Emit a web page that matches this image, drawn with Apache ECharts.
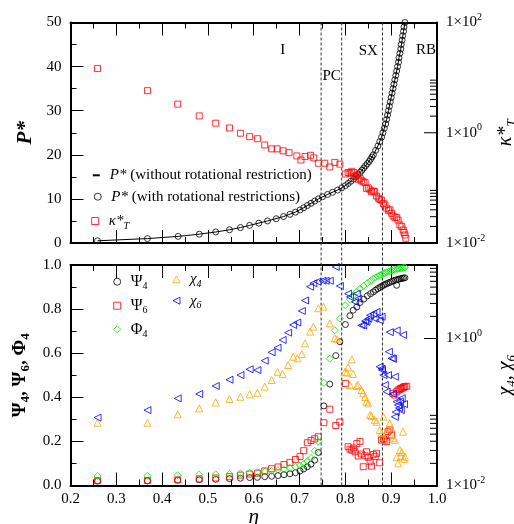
<!DOCTYPE html>
<html>
<head>
<meta charset="utf-8">
<title>Equation of state and order parameters</title>
<script src="https://cdn.jsdelivr.net/npm/echarts@6.0.0/dist/echarts.min.js"></script>
<style>
  html, body { margin: 0; padding: 0; background: #ffffff; }
  #chart { width: 514px; height: 524px; }
</style>
</head>
<body>
<div id="chart"></div>
<script>
// ---------------- data ----------------
// packing fraction range shared by both panels
const ETA_MIN = 0.2, ETA_MAX = 1.0, ETA_STEP = 0.1;

// reduced pressure, system without rotational restriction (solid curve)
const pWithoutRestriction = [
  [0.259,0.5],[0.368,1.0],[0.435,1.5],[0.481,2.0],[0.517,2.5],[0.547,3.0],[0.571,3.5],[0.591,4.0],
  [0.630,5.0],[0.665,6.0],[0.691,7.0],[0.709,8.0],[0.725,9.0],[0.741,10.0],[0.761,11.0],[0.783,12.0],
  [0.800,13.0],[0.812,14.0],[0.823,15.0],[0.832,16.0],[0.840,17.0],[0.848,18.0],[0.855,19.0],[0.861,20.0],
  [0.871,22.0],[0.879,24.0],[0.885,26.0],[0.890,28.0],[0.894,30.0],[0.898,32.0],[0.902,34.0],[0.906,36.0],
  [0.910,38.0],[0.914,40.0],[0.917,42.0],[0.921,44.0],[0.924,46.0],[0.927,48.0],[0.930,50.0]
];

// reduced pressure, system with rotational restrictions (open circles)
const pWithRestrictions = [
  [0.259,0.5],[0.368,1.0],[0.435,1.5],[0.481,2.0],[0.517,2.5],[0.547,3.0],[0.571,3.5],[0.591,4.0],
  [0.611,4.5],[0.630,5.0],[0.649,5.5],[0.665,6.0],[0.679,6.5],[0.691,7.0],[0.701,7.5],[0.709,8.0],
  [0.717,8.5],[0.725,9.0],[0.733,9.5],[0.741,10.0],[0.750,10.5],[0.761,11.0],[0.772,11.5],[0.783,12.0],
  [0.792,12.5],[0.800,13.0],[0.806,13.5],[0.812,14.0],[0.818,14.5],[0.823,15.0],[0.827,15.5],[0.832,16.0],
  [0.836,16.5],[0.840,17.0],[0.844,17.5],[0.848,18.0],[0.852,18.5],[0.855,19.0],[0.858,19.5],[0.861,20.0],
  [0.866,21],[0.871,22],[0.875,23],[0.879,24],[0.882,25],[0.885,26],[0.888,27],[0.890,28],[0.892,29],
  [0.894,30],[0.896,31],[0.898,32],[0.900,33],[0.902,34],[0.904,35],[0.906,36],[0.908,37],[0.910,38],
  [0.912,39],[0.914,40],[0.916,41],[0.917,42],[0.919,43],[0.921,44],[0.922,45],[0.924,46],[0.925,47],
  [0.927,48],[0.928,49],[0.930,50]
];

// isothermal compressibility (right log axis, upper panel)
const kappaT = [
  [0.259,14.6],[0.368,5.8],[0.434,3.3],[0.481,2.02],[0.517,1.49],[0.547,1.22],[0.571,0.98],[0.591,0.85],
  [0.608,0.78],[0.624,0.60],[0.639,0.51],[0.651,0.51],[0.664,0.47],[0.677,0.435],[0.694,0.38],[0.703,0.32],
  [0.712,0.37],[0.724,0.39],[0.731,0.35],[0.741,0.28],[0.755,0.28],[0.766,0.24],[0.777,0.29],[0.788,0.27],
  [0.800,0.179],[0.806,0.19],[0.810,0.184],[0.814,0.20],[0.818,0.19],[0.821,0.16],[0.825,0.17],[0.828,0.143],
  [0.832,0.149],[0.835,0.135],[0.839,0.129],[0.843,0.125],[0.846,0.098],[0.850,0.10],[0.854,0.092],[0.857,0.085],
  [0.861,0.087],[0.864,0.085],[0.868,0.071],[0.872,0.065],[0.875,0.062],[0.879,0.060],[0.883,0.052],[0.886,0.049],
  [0.890,0.043],[0.894,0.0385],[0.897,0.040],[0.901,0.0346],[0.904,0.031],[0.908,0.0292],[0.912,0.0292],
  [0.915,0.0261],[0.919,0.0212],[0.923,0.0198],[0.926,0.0172],[0.928,0.0155],[0.930,0.014],[0.932,0.0122]
];

// tetratic order parameter
const psi4 = [
  [0.259,0.020],[0.368,0.021],[0.434,0.024],[0.481,0.026],[0.517,0.028],[0.547,0.031],[0.571,0.033],
  [0.591,0.036],[0.608,0.037],[0.624,0.040],[0.639,0.042],[0.653,0.045],[0.666,0.049],[0.679,0.053],
  [0.691,0.058],[0.701,0.066],[0.709,0.075],[0.717,0.085],[0.725,0.097],[0.733,0.115],[0.741,0.150],
  [0.753,0.361],[0.766,0.460],[0.779,0.589],[0.788,0.652],[0.800,0.730],[0.810,0.770],[0.817,0.795],
  [0.825,0.810],[0.832,0.830],[0.840,0.845],[0.848,0.860],[0.855,0.870],[0.861,0.878],[0.866,0.886],
  [0.871,0.893],[0.875,0.898],[0.879,0.903],[0.883,0.908],[0.886,0.912],[0.890,0.915],[0.894,0.919],
  [0.898,0.922],[0.902,0.926],[0.906,0.929],[0.910,0.932],[0.912,0.908],[0.914,0.934],[0.917,0.936],
  [0.921,0.938],[0.924,0.940],[0.927,0.941],[0.930,0.942]
];

// hexatic order parameter
const psi6 = [
  [0.259,0.022],[0.368,0.023],[0.434,0.026],[0.481,0.030],[0.517,0.034],[0.547,0.040],[0.571,0.047],
  [0.591,0.052],[0.608,0.056],[0.624,0.066],[0.639,0.076],[0.653,0.084],[0.666,0.095],[0.679,0.105],
  [0.691,0.118],[0.701,0.132],[0.709,0.158],[0.717,0.194],[0.725,0.204],[0.733,0.212],[0.741,0.221],
  [0.753,0.285],[0.766,0.346],[0.779,0.272],[0.788,0.288],[0.800,0.463],[0.806,0.176],[0.810,0.165],
  [0.814,0.160],[0.818,0.170],[0.821,0.153],[0.825,0.190],[0.828,0.134],[0.832,0.200],[0.835,0.143],
  [0.839,0.085],[0.843,0.135],[0.846,0.153],[0.850,0.128],[0.854,0.108],[0.857,0.088],[0.861,0.140],
  [0.865,0.131],[0.868,0.146],[0.875,0.103],[0.879,0.206],[0.883,0.212],[0.886,0.206],[0.890,0.199],
  [0.893,0.244],[0.897,0.252],[0.901,0.229],[0.904,0.418],[0.908,0.410],[0.912,0.425],[0.915,0.433],
  [0.919,0.436],[0.921,0.440],[0.923,0.441],[0.926,0.445],[0.928,0.447],[0.930,0.448],[0.934,0.450]
];

// orientational order parameter
const phi4 = [
  [0.259,0.043],[0.368,0.044],[0.434,0.047],[0.481,0.050],[0.517,0.051],[0.547,0.053],[0.571,0.055],
  [0.591,0.058],[0.608,0.060],[0.624,0.063],[0.639,0.066],[0.653,0.070],[0.666,0.074],[0.679,0.079],
  [0.691,0.085],[0.701,0.090],[0.709,0.098],[0.717,0.110],[0.725,0.125],[0.733,0.158],[0.741,0.199],
  [0.753,0.466],[0.766,0.575],[0.777,0.704],[0.788,0.757],[0.800,0.817],[0.810,0.844],[0.817,0.862],
  [0.825,0.878],[0.832,0.893],[0.840,0.905],[0.848,0.918],[0.855,0.928],[0.861,0.938],[0.866,0.944],
  [0.871,0.949],[0.875,0.953],[0.879,0.957],[0.883,0.961],[0.886,0.964],[0.890,0.967],[0.894,0.970],
  [0.898,0.973],[0.902,0.975],[0.906,0.978],[0.910,0.980],[0.914,0.982],[0.917,0.984],[0.921,0.985],
  [0.924,0.986],[0.927,0.988],[0.930,0.989]
];

// susceptibilities (right log axis, lower panel)
const chi4 = [
  [0.259,0.0715],[0.368,0.0715],[0.434,0.093],[0.481,0.112],[0.517,0.135],[0.547,0.150],[0.571,0.161],
  [0.591,0.174],[0.608,0.183],[0.624,0.221],[0.639,0.272],[0.652,0.353],[0.663,0.329],[0.675,0.436],
  [0.686,0.565],[0.695,0.538],[0.705,0.615],[0.712,0.86],[0.723,1.24],[0.730,1.45],[0.741,2.58],
  [0.752,2.71],[0.766,1.61],[0.777,1.01],[0.782,0.975],[0.799,0.353],[0.803,0.343],[0.806,0.405],
  [0.810,0.233],[0.814,0.52],[0.817,0.329],[0.825,0.226],[0.828,0.233],[0.835,0.199],[0.839,0.180],
  [0.843,0.160],[0.846,0.138],[0.850,0.131],[0.854,0.091],[0.857,0.088],[0.864,0.078],[0.868,0.0738],
  [0.875,0.0569],[0.879,0.0518],[0.883,0.0863],[0.886,0.0416],[0.890,0.0534],[0.897,0.070],[0.901,0.060],
  [0.904,0.0439],[0.908,0.0416],[0.912,0.0242],[0.915,0.020],[0.919,0.0304],[0.921,0.0252],[0.923,0.0285],
  [0.926,0.054],[0.928,0.023],[0.930,0.0247]
];

const chi6 = [
  [0.259,0.084],[0.368,0.106],[0.434,0.153],[0.481,0.176],[0.517,0.226],[0.547,0.275],[0.571,0.318],
  [0.591,0.381],[0.608,0.372],[0.624,0.499],[0.639,0.649],[0.652,0.75],[0.663,0.955],[0.675,1.20],
  [0.686,1.53],[0.695,1.65],[0.705,2.37],[0.712,3.29],[0.723,5.07],[0.730,5.64],[0.739,5.93],[0.750,6.11],
  [0.757,6.11],[0.766,6.11],[0.779,9.4],[0.788,5.18],[0.806,4.07],[0.810,3.67],[0.821,3.14],[0.825,4.07],
  [0.828,3.48],[0.835,1.51],[0.839,1.51],[0.843,1.73],[0.846,1.68],[0.850,1.86],[0.854,2.07],[0.861,2.17],
  [0.864,1.86],[0.868,2.30],[0.875,1.77],[0.879,1.98],[0.875,0.413],[0.879,0.388],[0.880,0.372],
  [0.883,0.318],[0.886,0.233],[0.890,0.189],[0.893,0.318],[0.895,0.66],[0.897,1.22],[0.901,0.538],
  [0.904,0.53],[0.908,0.302],[0.912,1.29],[0.926,1.12],[0.904,0.176],[0.908,0.086],[0.910,0.10],
  [0.912,0.138],[0.915,0.124],[0.917,0.113],[0.919,0.14],[0.921,0.106],[0.923,0.154],[0.928,0.128]
];

// packing fractions separating the phases
const phaseBoundaries = [0.747, 0.792, 0.881];
const phaseNames = ['I', 'PC', 'SX', 'RB'];

// tick values of the logarithmic axes
const logMajorTicks = [1];
const logMinorTicks = [0.02, 0.03, 0.04, 0.05, 0.06, 0.07, 0.08, 0.09, 2, 3, 4, 5, 6, 7, 8, 9];

// ---------------- chart ----------------
const FONT = "'Liberation Serif', 'Times New Roman', Times, serif";
const BLACK = '#000000';

// left-pointing open triangle used for the chi_6 markers
const LEFT_TRIANGLE = 'path://M10,0L10,10L0,5Z';

const NAME_P_LINE = 'P* (without rotational restriction)';
const NAME_P_CIRC = 'P* (with rotational restrictions)';
const NAME_KAPPA = 'κ*T';
const NAME_PSI4 = 'Ψ4', NAME_PSI6 = 'Ψ6', NAME_PHI4 = 'Φ4', NAME_CHI4 = 'χ4', NAME_CHI6 = 'χ6';

const legendText = {
  [NAME_P_LINE]: '{it|P*} (without rotational restriction)',
  [NAME_P_CIRC]: '{it|P*} (with rotational restrictions)',
  [NAME_KAPPA]: '{it|κ*}{subIt|T}',
  [NAME_PSI4]: '{gr|Ψ}{sub|4}',
  [NAME_PSI6]: '{gr|Ψ}{sub|6}',
  [NAME_PHI4]: '{gr|Φ}{sub|4}',
  [NAME_CHI4]: '{it|χ}{subIt|4}',
  [NAME_CHI6]: '{it|χ}{subIt|6}'
};

const legendRich = {
  it: { fontFamily: FONT, fontSize: 15, fontStyle: 'italic', lineHeight: 20, color: BLACK },
  gr: { fontFamily: FONT, fontSize: 16, lineHeight: 20, color: BLACK },
  sub: { fontFamily: FONT, fontSize: 10, lineHeight: 10, verticalAlign: 'bottom', color: BLACK },
  subIt: { fontFamily: FONT, fontSize: 10, fontStyle: 'italic', lineHeight: 10, verticalAlign: 'bottom', color: BLACK }
};

// one legend component per row so every entry sits exactly where it belongs
function legendEntry(name, cx, cy, opts) {
  const o = opts || {};
  const w = o.itemWidth || 7, h = o.itemHeight || 7;
  const item = { name };
  if (o.icon) item.icon = o.icon;
  return {
    show: true, orient: 'vertical', left: cx - w / 2, top: cy - 10, padding: 0,
    itemWidth: w, itemHeight: h, selectedMode: false, data: [item],
    itemStyle: o.itemStyle || { color: 'transparent', borderWidth: 1 },
    formatter: n => legendText[n],
    textStyle: { fontFamily: FONT, fontSize: 15, color: BLACK, lineHeight: 20, padding: [0, 0, 0, 5], rich: legendRich }
  };
}

const axisLineStyle = { show: true, onZero: false, lineStyle: { color: BLACK, width: 2 } };

function etaAxis(gridIndex, position, showLabels) {
  return {
    type: 'value', gridIndex, position, min: ETA_MIN, max: ETA_MAX, interval: ETA_STEP,
    axisLine: axisLineStyle,
    axisTick: { show: true, inside: true, length: 13, lineStyle: { color: BLACK, width: 1 } },
    minorTick: { show: true, splitNumber: 2, length: 6, lineStyle: { color: BLACK, width: 1 } },
    splitLine: { show: false },
    axisLabel: {
      show: showLabels, fontFamily: FONT, fontSize: 15, color: BLACK, margin: 6,
      formatter: v => v.toFixed(1)
    },
    name: showLabels ? 'η' : '', nameLocation: 'middle', nameGap: 18,
    nameTextStyle: { fontFamily: FONT, fontSize: 21, fontStyle: 'italic', color: BLACK }
  };
}

function linearAxis(gridIndex, max, interval, digits, name, rich, gap) {
  return {
    type: 'value', gridIndex, position: 'left', min: 0, max, interval,
    axisLine: axisLineStyle,
    axisTick: { show: true, inside: true, length: 13, lineStyle: { color: BLACK, width: 1 } },
    minorTick: { show: true, splitNumber: 2, length: 6, lineStyle: { color: BLACK, width: 1 } },
    splitLine: { show: false },
    axisLabel: { fontFamily: FONT, fontSize: 15, color: BLACK, margin: 9, formatter: v => v.toFixed(digits) },
    name, nameLocation: 'middle', nameRotate: 90, nameGap: gap,
    nameTextStyle: { rich }
  };
}

function powerLabel(v) {
  const e = Math.round(Math.log10(v));
  return e % 2 === 0 ? '{b|1×10}{sup|' + e + '}' : '';
}

function logAxis(gridIndex, min, max, name, gap) {
  return {
    type: 'log', logBase: 10, gridIndex, position: 'right', min, max,
    axisLine: axisLineStyle,
    axisTick: { show: false }, minorTick: { show: false }, splitLine: { show: false },
    axisLabel: {
      margin: 9, formatter: powerLabel,
      rich: {
        b: { fontFamily: FONT, fontSize: 15, lineHeight: 20, color: BLACK },
        sup: { fontFamily: FONT, fontSize: 10, lineHeight: 10, verticalAlign: 'top', color: BLACK }
      }
    },
    name, nameLocation: 'middle', nameRotate: 90, nameGap: gap,
    nameTextStyle: {
      rich: {
        it: { fontFamily: FONT, fontSize: 20, fontStyle: 'italic', lineHeight: 24, color: BLACK },
        sub: { fontFamily: FONT, fontSize: 13, fontStyle: 'italic', lineHeight: 13, verticalAlign: 'bottom', color: BLACK }
      }
    }
  };
}

// inward tick marks on the right-hand logarithmic axes
function logTicks(xAxisIndex, yAxisIndex, values, len) {
  return {
    type: 'custom', xAxisIndex, yAxisIndex, silent: true, z: 6,
    data: values.map(v => [ETA_MAX, v]),
    renderItem: (params, api) => {
      const p = api.coord([api.value(0), api.value(1)]);
      return {
        type: 'line',
        shape: { x1: p[0], y1: p[1], x2: p[0] - len, y2: p[1] },
        style: { stroke: BLACK, lineWidth: 1 }
      };
    }
  };
}

function openSymbols(name, xAxisIndex, yAxisIndex, data, symbol, size, color) {
  return {
    type: 'scatter', name, xAxisIndex, yAxisIndex, data, symbol, symbolSize: size,
    silent: true, z: 4,
    itemStyle: { color: 'transparent', borderColor: color, borderWidth: 1 }
  };
}

const gridBase = { containLabel: false, outerBoundsMode: 'none' };

const chart = echarts.init(document.getElementById('chart'), null, { renderer: 'canvas' });

chart.setOption({
  animation: false,
  backgroundColor: '#ffffff',
  grid: [
    Object.assign({ left: 70.5, top: 22.5, width: 366.5, height: 220.5 }, gridBase),
    Object.assign({ left: 70.5, top: 265, width: 366.5, height: 220.5 }, gridBase),
    Object.assign({ left: 70.5, top: 22.5, width: 366.5, height: 463 }, gridBase)
  ],
  xAxis: [
    etaAxis(0, 'bottom', false),
    etaAxis(0, 'top', false),
    etaAxis(1, 'bottom', true),
    etaAxis(1, 'top', false),
    { type: 'value', gridIndex: 2, min: ETA_MIN, max: ETA_MAX, show: false }
  ],
  yAxis: [
    linearAxis(0, 50, 10, 0, '{p|P*}', { p: { fontFamily: FONT, fontSize: 21, fontStyle: 'italic', fontWeight: 'bold', color: BLACK } }, 32),
    logAxis(0, 0.01, 100, '{it|κ*}{sub|T}', 44),
    linearAxis(1, 1, 0.2, 1, '{g|Ψ}{s|4}{g|, Ψ}{s|6}{g|, Φ}{s|4}', {
      g: { fontFamily: FONT, fontSize: 19, fontWeight: 'bold', lineHeight: 24, color: BLACK },
      s: { fontFamily: FONT, fontSize: 13, fontWeight: 'bold', lineHeight: 13, verticalAlign: 'bottom', color: BLACK }
    }, 34),
    logAxis(1, 0.01, 10, '{it|χ}{sub|4}{it|, χ}{sub|6}', 44),
    { type: 'value', gridIndex: 2, min: 0, max: 1, show: false }
  ],
  legend: [
    legendEntry(NAME_P_LINE, 96.3, 175.3, { icon: 'rect', itemWidth: 7, itemHeight: 2, itemStyle: { color: BLACK, borderWidth: 0 } }),
    legendEntry(NAME_P_CIRC, 97.3, 196.7),
    legendEntry(NAME_KAPPA, 94.7, 221),
    legendEntry(NAME_PSI4, 116.7, 281.7),
    legendEntry(NAME_PSI6, 116.7, 305.7),
    legendEntry(NAME_PHI4, 116.7, 329.3),
    legendEntry(NAME_CHI4, 176, 279.3),
    legendEntry(NAME_CHI6, 176, 300.7, { icon: LEFT_TRIANGLE })
  ],
  graphic: [
    { type: 'text', x: 280.2, y: 42.5, silent: true, style: { text: phaseNames[0], fontFamily: FONT, fontSize: 15, fill: BLACK } },
    { type: 'text', x: 322.5, y: 69, silent: true, style: { text: phaseNames[1], fontFamily: FONT, fontSize: 15, fill: BLACK } },
    { type: 'text', x: 358.7, y: 44, silent: true, style: { text: phaseNames[2], fontFamily: FONT, fontSize: 15, fill: BLACK } },
    { type: 'text', x: 416, y: 42.5, silent: true, style: { text: phaseNames[3], fontFamily: FONT, fontSize: 15, fill: BLACK } }
  ],
  series: [
    // dashed phase boundaries running through both panels
    {
      type: 'custom', xAxisIndex: 4, yAxisIndex: 4, silent: true, z: 1,
      data: phaseBoundaries.map(x => [x, 0]),
      renderItem: (params, api) => {
        const top = api.coord([api.value(0), 1]);
        const bottom = api.coord([api.value(0), 0]);
        return {
          type: 'line',
          shape: { x1: top[0], y1: top[1], x2: bottom[0], y2: bottom[1] },
          style: { stroke: '#333333', lineWidth: 1, lineDash: [3, 2] }
        };
      }
    },
    {
      type: 'line', name: NAME_P_LINE, xAxisIndex: 0, yAxisIndex: 0, data: pWithoutRestriction,
      symbol: 'none', showSymbol: false, silent: true, z: 3,
      lineStyle: { color: BLACK, width: 1 }, itemStyle: { color: BLACK }
    },
    openSymbols(NAME_P_CIRC, 0, 0, pWithRestrictions, 'circle', 6, BLACK),
    openSymbols(NAME_KAPPA, 0, 1, kappaT, 'rect', 6, '#ff0000'),
    openSymbols(NAME_PSI4, 2, 2, psi4, 'circle', 6, BLACK),
    openSymbols(NAME_PSI6, 2, 2, psi6, 'rect', 6, '#ff0000'),
    openSymbols(NAME_PHI4, 2, 2, phi4, 'diamond', 7, '#00ee00'),
    openSymbols(NAME_CHI4, 2, 3, chi4, 'triangle', 7, '#ffa500'),
    openSymbols(NAME_CHI6, 2, 3, chi6, LEFT_TRIANGLE, 7, '#0000ff'),
    logTicks(0, 1, logMajorTicks, 13),
    logTicks(0, 1, logMinorTicks, 7),
    logTicks(2, 3, logMajorTicks, 13),
    logTicks(2, 3, logMinorTicks, 7)
  ]
});
</script>
</body>
</html>
